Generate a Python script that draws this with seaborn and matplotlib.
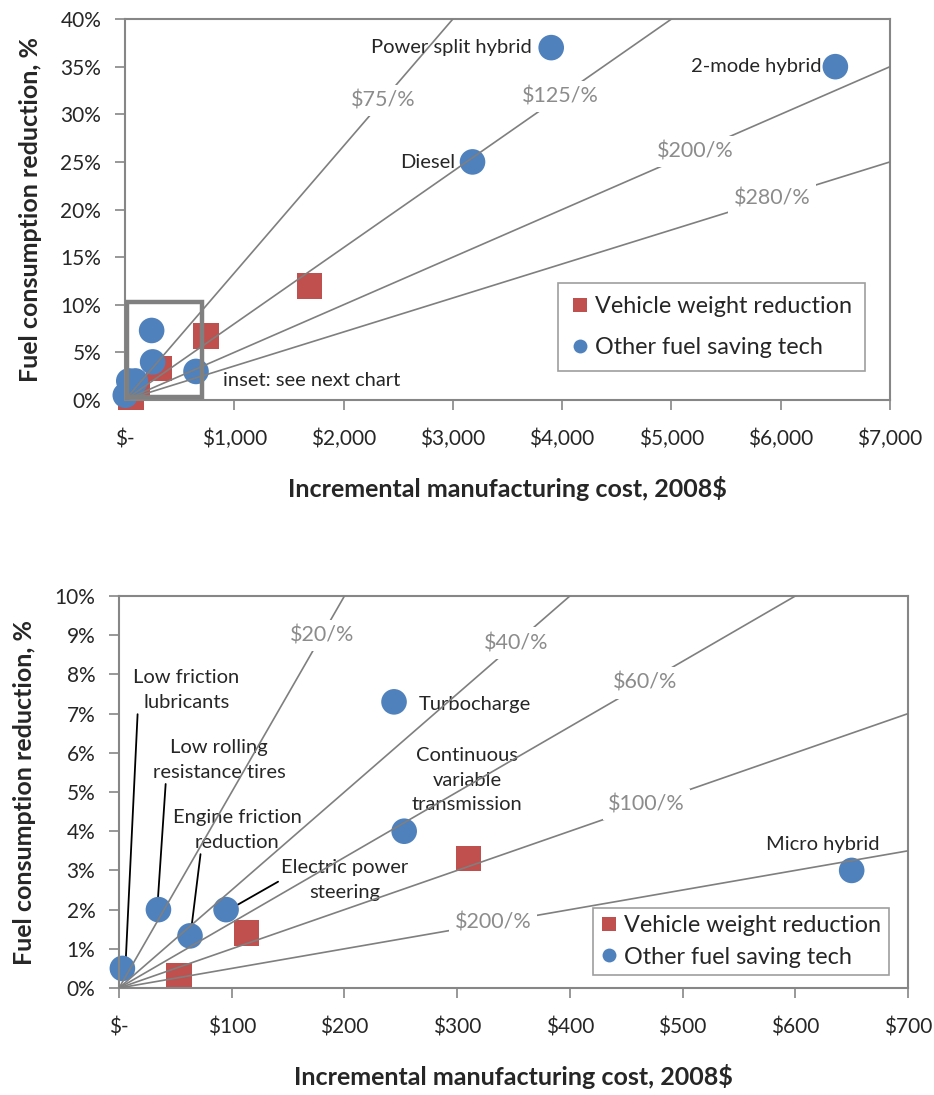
import matplotlib
matplotlib.use("Agg")
import matplotlib.pyplot as plt
import seaborn as sns
import pandas as pd
import numpy as np
from matplotlib.patches import Rectangle
from matplotlib.lines import Line2D

sns.set_theme(style="white")
plt.rcParams['font.family'] = ['Lato', 'DejaVu Sans']

# ---------------- data ----------------
weight_cost = [53, 113, 310, 740, 1690]
weight_red = [0.3, 1.4, 3.3, 6.7, 12.0]

other_names = ["Low friction lubricants", "Low rolling resistance tires",
               "Engine friction reduction", "Electric power steering",
               "Turbocharge", "Continuous variable transmission", "Micro hybrid",
               "Diesel", "Power split hybrid", "2-mode hybrid"]
other_cost = [3, 35, 63, 95, 244, 253, 650, 3180, 3900, 6500]
other_red = [0.5, 2.0, 1.33, 2.0, 7.3, 4.0, 3.0, 25.0, 37.0, 35.0]

top_rates = [75, 125, 200, 280]
top_rate_label_x = [2360, 3980, 5215, 5920]
bottom_rates = [20, 40, 60, 100, 200]
bottom_rate_label_x = [180, 352, 467, 468, 332]

top_xticks = [0, 1000, 2000, 3000, 4000, 5000, 6000, 7000]
top_xticklabels = ["$-", "$1,000", "$2,000", "$3,000", "$4,000", "$5,000", "$6,000", "$7,000"]
top_yticks = [0, 5, 10, 15, 20, 25, 30, 35, 40]
bottom_xticks = [0, 100, 200, 300, 400, 500, 600, 700]
bottom_xticklabels = ["$-", "$100", "$200", "$300", "$400", "$500", "$600", "$700"]
bottom_yticks = list(range(0, 11))

series_w = "Vehicle weight reduction"
series_o = "Other fuel saving tech"

df = pd.DataFrame({
    "cost": weight_cost + other_cost,
    "red": weight_red + other_red,
    "series": [series_w] * len(weight_cost) + [series_o] * len(other_cost),
})

RED = "#C0504D"
BLUE = "#4F81BD"
GRAY = "#868686"
LINEGRAY = "#7F7F7F"
palette = {series_w: RED, series_o: BLUE}
markers = {series_w: "s", series_o: "o"}

LBL = 14.5     # annotation font size
TICK = 15
AXT = 18

fig = plt.figure(figsize=(9.34, 10.95), dpi=100)
ax1 = fig.add_axes([0.1338, 0.6347, 0.9529 - 0.1338, 0.9826 - 0.6347])
ax2 = fig.add_axes([0.1274, 0.0977, 0.9722 - 0.1274, 0.4557 - 0.0977])


def style_axes(ax, xmax, ymax, xticks, xticklabels, yticks):
    ax.set_xlim(0, xmax)
    ax.set_ylim(0, ymax)
    ax.set_xticks(xticks)
    ax.set_xticklabels(xticklabels, fontsize=TICK)
    ax.set_yticks(yticks)
    ax.set_yticklabels([f"{t}%" for t in yticks], fontsize=TICK)
    for s in ax.spines.values():
        s.set_color(GRAY)
        s.set_linewidth(1.5)
    ax.tick_params(axis="both", direction="out", length=7, width=1.2, color=GRAY,
                   bottom=True, left=True)
    ax.tick_params(axis="x", pad=14)
    ax.tick_params(axis="y", pad=10)
    ax.set_xlabel("Incremental manufacturing cost, 2008$", fontsize=AXT, fontweight="bold", labelpad=19)
    ax.set_ylabel("Fuel consumption reduction, %", fontsize=AXT, fontweight="bold", labelpad=13)


def draw_scatter(ax):
    sns.scatterplot(data=df, x="cost", y="red", hue="series", style="series",
                    palette=palette, markers=markers, s=340, linewidth=0,
                    ax=ax, legend=False, zorder=2, clip_on=False)


def draw_rates(ax, rates, label_x, xmax):
    for r, lx in zip(rates, label_x):
        xs = np.array([0, xmax])
        ax.plot(xs, xs / r, color=LINEGRAY, lw=1.2, zorder=3)
        ax.text(lx, lx / r, f"${r}/%", color="#8C8C8C", fontsize=15.5,
                ha="center", va="center", zorder=4,
                bbox=dict(facecolor="white", edgecolor="none", pad=4))


def draw_legend(ax, loc_anchor, fs, spacing, bpad):
    handles = [
        Line2D([], [], marker="s", color="none", markerfacecolor=RED, markeredgewidth=0, markersize=10),
        Line2D([], [], marker="o", color="none", markerfacecolor=BLUE, markeredgewidth=0, markersize=10),
    ]
    leg = ax.legend(handles, [series_w, series_o], loc="upper left", bbox_to_anchor=loc_anchor,
                    bbox_transform=fig.transFigure, frameon=True, fancybox=False,
                    fontsize=fs, handletextpad=0.25, handlelength=0.8, borderpad=bpad,
                    labelspacing=spacing, borderaxespad=0)
    leg.get_frame().set_edgecolor(GRAY)
    leg.get_frame().set_linewidth(1.2)
    leg.set_zorder(10)


# ---------- top chart ----------
draw_scatter(ax1)
draw_rates(ax1, top_rates, top_rate_label_x, 7000)
style_axes(ax1, 7000, 40, top_xticks, top_xticklabels, top_yticks)
ax1.add_patch(Rectangle((15, 0.35), 690, 9.95, fill=False, edgecolor="#808080", lw=3.2, zorder=5))
ax1.text(897, 2.1, "inset: see next chart", fontsize=LBL, ha="left", va="center", zorder=6)
ax1.text(3724, 37.0, "Power split hybrid", fontsize=LBL, ha="right", va="center")
ax1.text(6377, 35.0, "2-mode hybrid", fontsize=LBL, ha="right", va="center")
ax1.text(3019, 24.9, "Diesel", fontsize=LBL, ha="right", va="center")
draw_legend(ax1, (558 / 934, 1 - 283 / 1095), 16.8, 0.85, 0.55)

# ---------- bottom chart ----------
draw_scatter(ax2)
draw_rates(ax2, bottom_rates, bottom_rate_label_x, 700)
style_axes(ax2, 700, 10, bottom_xticks, bottom_xticklabels, bottom_yticks)

ann_kw = dict(fontsize=LBL, ha="center", va="center", linespacing=1.55, zorder=1)
arrow = dict(arrowstyle="-", color="black", lw=1.3, shrinkA=0, shrinkB=0)
ax2.annotate("Low friction\nlubricants", xy=(6, 0.71), xytext=(60, 7.6),
             arrowprops=dict(arrow, relpos=(0.04, 0.0)), **ann_kw)
ax2.annotate("Low rolling\nresistance tires", xy=(34.6, 2.3), xytext=(88.7, 5.82),
             arrowprops=dict(arrow, relpos=(0.1, 0.0)), **ann_kw)
ax2.annotate("Engine friction\nreduction", xy=(64, 1.48), xytext=(104.7, 4.03),
             arrowprops=dict(arrow, relpos=(0.22, 0.0)), **ann_kw)
ax2.annotate("Electric power\nsteering", xy=(105, 2.12), xytext=(200.5, 2.76),
             arrowprops=dict(arrow, relpos=(0.0, 0.5)), **ann_kw)
ax2.text(266, 7.24, "Turbocharge", fontsize=LBL, ha="left", va="center", zorder=1)
ax2.text(309, 5.3, "Continuous\nvariable\ntransmission", fontsize=LBL, ha="center",
         va="center", linespacing=1.55, zorder=1)
ax2.text(624, 3.65, "Micro hybrid", fontsize=LBL, ha="center", va="center", zorder=1)
draw_legend(ax2, (593 / 934, 1 - 908 / 1095), 16.8, 0.45, 0.3)

fig.savefig("out.png", dpi=100)
